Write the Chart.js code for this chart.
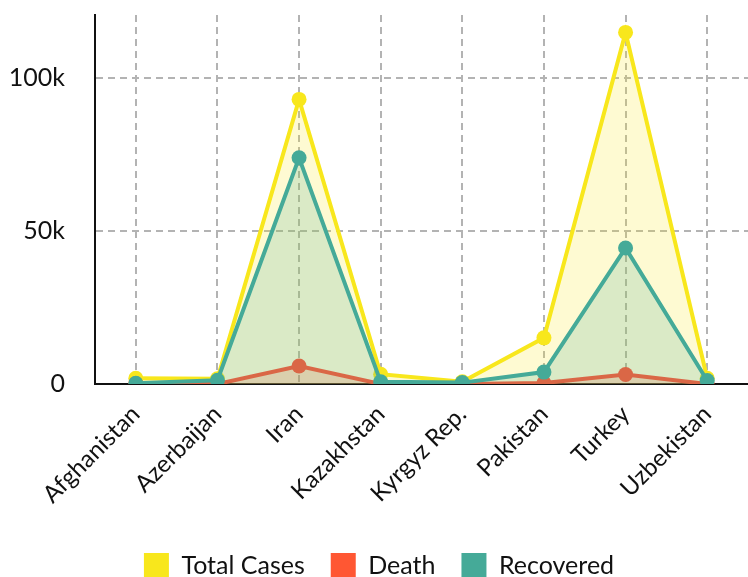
<!DOCTYPE html>
<html>
<head>
<meta charset="utf-8">
<script src="https://cdn.jsdelivr.net/npm/chart.js@4.4.1/dist/chart.umd.min.js"></script>
<style>
  html, body { margin: 0; padding: 0; background: #fff; }
  #wrap { width: 748px; height: 577px; }
</style>
</head>
<body>
<div id="wrap"><canvas id="covidChart"></canvas></div>
<script>
// Datos
const paises = ['Afghanistan', 'Azerbaijan', 'Iran', 'Kazakhstan', 'Kyrgyz Rep.', 'Pakistan', 'Turkey', 'Uzbekistan'];
const totalCases = [1900, 1700, 93100, 3200, 750, 15100, 115000, 1900];
const deaths = [60, 22, 5900, 25, 8, 330, 3100, 8];
const recovered = [250, 1250, 74000, 700, 450, 3900, 44500, 1150];
const yTicks = [0, 50000, 100000];

const ctx = document.getElementById('covidChart').getContext('2d');
const gridColor = '#b3b3b3';

const chart = new Chart(ctx, {
    type: 'line',
    data: {
        labels: paises,
        datasets: [{
            label: 'Total Cases',
            data: totalCases,
            borderColor: '#f8e71c',
            backgroundColor: 'rgba(248, 231, 28, 0.2)',
            pointBackgroundColor: '#f8e71c',
            fill: 'origin',
            order: 2
        }, {
            label: 'Death',
            data: deaths,
            borderColor: '#ff5733',
            backgroundColor: 'rgba(255, 87, 51, 0.2)',
            pointBackgroundColor: '#ff5733',
            fill: 'origin',
            order: 1
        }, {
            label: 'Recovered',
            data: recovered,
            borderColor: '#45aa98',
            backgroundColor: 'rgba(69, 170, 152, 0.2)',
            pointBackgroundColor: '#45aa98',
            fill: 'origin',
            order: 0
        }]
    },
    options: {
        responsive: true,
        maintainAspectRatio: false,
        animation: false,
        layout: { autoPadding: false, padding: { left: 10, right: 0, top: 15, bottom: -11 } },
        elements: {
            line: { borderWidth: 4, tension: 0 },
            point: { radius: 7.5, borderWidth: 0, hoverRadius: 7.5 }
        },
        scales: {
            x: {
                offset: true,
                afterFit: function(scale) {
                    scale.height = 143;
                    scale.paddingLeft = 0;
                    scale.paddingRight = 0;
                },
                grid: { color: gridColor, lineWidth: 2, drawTicks: false },
                border: { color: '#111', width: 2, dash: [7, 5] },
                ticks: {
                    maxRotation: 45,
                    minRotation: 45,
                    padding: 16,
                    color: '#111',
                    font: { family: 'Lato', size: 24 }
                }
            },
            y: {
                min: 0,
                max: 120700,
                afterBuildTicks: function(scale) {
                    scale.ticks = yTicks.map(v => ({ value: v }));
                },
                afterFit: function(scale) {
                    scale.width = 85;
                    scale.paddingTop = 0;
                    scale.paddingBottom = 0;
                },
                grid: { color: gridColor, lineWidth: 2, drawTicks: false },
                border: { color: '#111', width: 2, dash: [7, 5] },
                ticks: {
                    padding: 30,
                    color: '#111',
                    font: { family: 'Lato', size: 25 },
                    callback: v => v === 0 ? '0' : (v / 1000) + 'k'
                }
            }
        },
        plugins: {
            tooltip: { enabled: false },
            legend: {
                position: 'bottom',
                reverse: true,
                labels: {
                    boxWidth: 25,
                    boxHeight: 25,
                    padding: 26,
                    color: '#111',
                    font: { family: 'Lato', size: 25 },
                    generateLabels: function(chart) {
                        const items = Chart.defaults.plugins.legend.labels.generateLabels(chart);
                        items.forEach(it => {
                            const ds = chart.data.datasets[it.datasetIndex];
                            it.fillStyle = ds.borderColor;
                            it.strokeStyle = ds.borderColor;
                            it.lineWidth = 0;
                        });
                        return items;
                    }
                }
            }
        }
    }
});
</script>
</body>
</html>
